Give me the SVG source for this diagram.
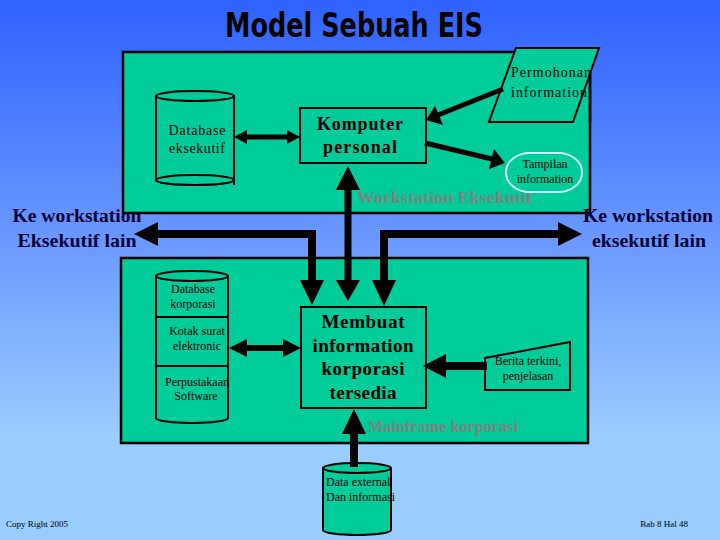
<svg xmlns="http://www.w3.org/2000/svg" width="720" height="540" viewBox="0 0 720 540">
<defs>
<linearGradient id="bg" x1="0" y1="0" x2="0" y2="1">
<stop offset="0" stop-color="#2f62ff"/>
<stop offset="0.45" stop-color="#6b99ff"/>
<stop offset="0.8" stop-color="#99ccff"/>
<stop offset="1" stop-color="#99ccff"/>
</linearGradient>
<style>
.box{fill:#00cc99;stroke:#000;stroke-width:2.5}
.shape{fill:#00cc99;stroke:#000;stroke-width:2}
.lbl{font-family:"Liberation Serif","Times New Roman",serif;fill:#000;text-anchor:middle}
.st{text-anchor:start}
.big{font-family:"Liberation Serif","Times New Roman",serif;font-weight:bold;fill:#000;text-anchor:middle}
.gray{font-family:"Liberation Serif","Times New Roman",serif;font-weight:bold;fill:#808080;font-size:16px}
.side{font-family:"Liberation Serif","Times New Roman",serif;font-weight:bold;fill:#000033;font-size:18px;text-anchor:middle}
.foot{font-family:"Liberation Serif",serif;fill:#000;font-size:9px}
.end{text-anchor:end}
.ln{stroke:#000;fill:none}
.hd{fill:#000;stroke:none}
</style>
</defs>
<rect x="0" y="0" width="720" height="540" fill="url(#bg)"/>

<text x="354" y="37" font-family="'Liberation Sans Narrow','DejaVu Sans Condensed','Liberation Sans',sans-serif" font-weight="bold" font-size="34" fill="#000" text-anchor="middle" textLength="258" lengthAdjust="spacingAndGlyphs">Model Sebuah EIS</text>

<g id="workstation">
<rect class="box" x="123" y="52" width="467" height="161"/>
<text class="gray" x="357" y="203" textLength="175" lengthAdjust="spacingAndGlyphs">Workstation Eksekutif</text>
</g>

<g id="mainframe">
<rect class="box" x="121" y="258" width="467" height="185"/>
<text class="gray" x="368" y="432" textLength="150" lengthAdjust="spacingAndGlyphs">Mainframe korporasi</text>
</g>

<g id="permohonan">
<polygon class="shape" points="516,48 599,48 573,122 489,122"/>
<text class="lbl st" font-size="14" x="511" y="77" textLength="80" lengthAdjust="spacing">Permohonan</text>
<text class="lbl st" font-size="14" x="511" y="97" textLength="76" lengthAdjust="spacing">information</text>
<line x1="590" y1="73" x2="590" y2="122" stroke="#000" stroke-width="2.5"/>
</g>

<g id="db-eksekutif">
<path class="shape" d="M156,96 L156,180 A39,5 0 0 0 234,180 L234,96 Z"/>
<ellipse class="shape" cx="195" cy="96" rx="39" ry="5"/>
<ellipse class="shape" cx="195" cy="180" rx="39" ry="5" fill="none"/>
<line x1="234" y1="180" x2="234" y2="185" stroke="#000" stroke-width="2"/>
<text class="lbl" font-size="14" x="197" y="135" textLength="57" lengthAdjust="spacing">Database</text>
<text class="lbl" font-size="14" x="197" y="153" textLength="56" lengthAdjust="spacing">eksekutif</text>
</g>

<g id="komputer">
<rect class="shape" x="300" y="108" width="126" height="55"/>
<text class="big" font-size="18" x="360" y="130" textLength="86" lengthAdjust="spacing">Komputer</text>
<text class="big" font-size="18" x="360" y="153" textLength="74" lengthAdjust="spacing">personal</text>
</g>

<g id="tampilan">
<rect x="506" y="153" width="76" height="39" rx="24" ry="19" fill="#00cc99" stroke="#ccffff" stroke-width="2"/>
<text class="lbl" font-size="12" x="545" y="168">Tampilan</text>
<text class="lbl" font-size="12" x="545" y="183">information</text>
</g>

<g id="ke-kiri">
<text class="side" x="77" y="222" textLength="129" lengthAdjust="spacingAndGlyphs">Ke workstation</text>
<text class="side" x="77" y="247" textLength="119" lengthAdjust="spacingAndGlyphs">Eksekutif lain</text>
</g>

<g id="ke-kanan">
<text class="side" x="648" y="222" textLength="130" lengthAdjust="spacingAndGlyphs">Ke workstation</text>
<text class="side" x="649" y="247" textLength="114" lengthAdjust="spacingAndGlyphs">eksekutif lain</text>
</g>

<g id="db-korporasi">
<path class="shape" d="M156,276 L156,418 A36,5 0 0 0 228,418 L228,276 Z"/>
<ellipse class="shape" cx="192" cy="276" rx="36" ry="5"/>
<line x1="156" y1="317" x2="228" y2="317" stroke="#000" stroke-width="2"/>
<line x1="156" y1="366" x2="228" y2="366" stroke="#000" stroke-width="2"/>
<text class="lbl" font-size="12" x="193" y="293">Database</text>
<text class="lbl" font-size="12" x="193" y="308">korporasi</text>
<text class="lbl" font-size="12" x="197" y="335">Kotak surat</text>
<text class="lbl" font-size="12" x="197" y="350">elektronic</text>
<text class="lbl st" font-size="12" x="165" y="386">Perpustakaan</text>
<text class="lbl" font-size="12" x="196" y="400">Software</text>
</g>

<g id="membuat">
<rect class="shape" x="301" y="307" width="125" height="101" stroke-width="2.5"/>
<text class="big" font-size="19" x="363" y="328" textLength="83" lengthAdjust="spacing">Membuat</text>
<text class="big" font-size="19" x="363" y="352" textLength="101" lengthAdjust="spacing">information</text>
<text class="big" font-size="19" x="363" y="375" textLength="83" lengthAdjust="spacing">korporasi</text>
<text class="big" font-size="19" x="363" y="399" textLength="67" lengthAdjust="spacing">tersedia</text>
</g>

<g id="berita">
<polygon class="shape" points="485,358 570,342 570,390 485,390"/>
<text class="lbl" font-size="12" x="528" y="365">Berita terkini,</text>
<text class="lbl" font-size="12" x="528" y="380">penjelasan</text>
</g>

<g id="data-external">
<path class="shape" d="M323,468 L323,530 A34,5 0 0 0 391,530 L391,468 Z"/>
<ellipse class="shape" cx="357" cy="468" rx="34" ry="5"/>
<text class="lbl st" font-size="12" x="326" y="486">Data external</text>
<text class="lbl st" font-size="12" x="326" y="501">Dan informasi</text>
</g>

<g id="connectors">
<line class="ln" x1="244" y1="137" x2="290" y2="137" stroke-width="5"/>
<polygon class="hd" points="234,137 247,130 247,144"/>
<polygon class="hd" points="300,137 287,130 287,144"/>
<line class="ln" x1="503" y1="89" x2="438" y2="115" stroke-width="5"/>
<polygon class="hd" points="426,120 435,106 443,125"/>
<line class="ln" x1="425" y1="143" x2="492" y2="159" stroke-width="5"/>
<polygon class="hd" points="505,163 489,169 494,149"/>
<line class="ln" x1="348" y1="188" x2="348" y2="282" stroke-width="7"/>
<polygon class="hd" points="348,166 336,190 360,190"/>
<polygon class="hd" points="348,301 336,280 360,280"/>
<path class="ln" d="M157,234 L312,234 L312,282" stroke-width="8"/>
<polygon class="hd" points="134,234 158,222 158,246"/>
<polygon class="hd" points="312,305 300,280 324,280"/>
<path class="ln" d="M559,234 L384,234 L384,282" stroke-width="8"/>
<polygon class="hd" points="582,234 558,222 558,246"/>
<polygon class="hd" points="384,306 372,280 396,280"/>
<line class="ln" x1="244" y1="348" x2="286" y2="348" stroke-width="6"/>
<polygon class="hd" points="229,348 247,339 247,357"/>
<polygon class="hd" points="301,348 283,339 283,357"/>
<line class="ln" x1="443" y1="366" x2="487" y2="366" stroke-width="8"/>
<polygon class="hd" points="423,366 446,354 446,378"/>
<line class="ln" x1="354" y1="431" x2="354" y2="467" stroke-width="8"/>
<polygon class="hd" points="354,409 342,434 366,434"/>
</g>

<text class="foot" x="6" y="527">Copy Right 2005</text>
<text class="foot end" x="688" y="527">Bab 8 Hal 48</text>
</svg>
